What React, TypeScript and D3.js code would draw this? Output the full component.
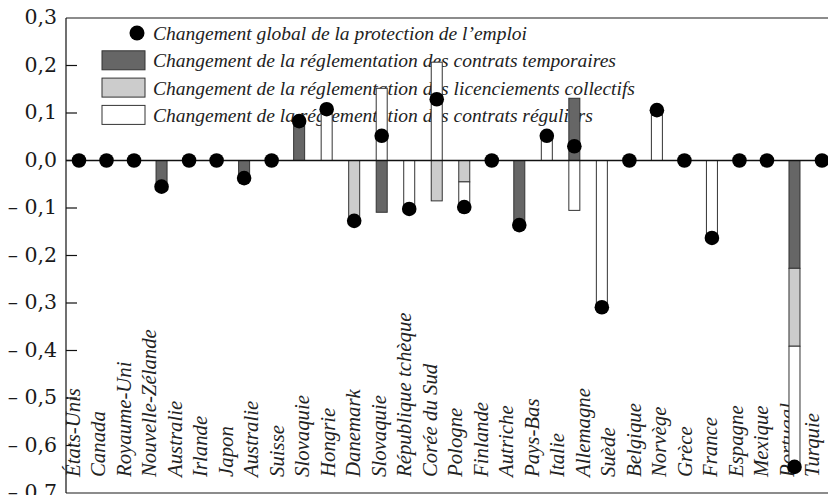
import React, { useEffect, useRef } from 'react';
import * as d3 from 'd3';

// libellés de l'axe horizontal (30) — ils ne tombent pas exactement sous les barres
const labels = [
  'États-Unis', 'Canada', 'Royaume-Uni', 'Nouvelle-Zélande', 'Australie', 'Irlande',
  'Japon', 'Australie', 'Suisse', 'Slovaquie', 'Hongrie', 'Danemark', 'Slovaquie',
  'République tchèque', 'Corée du Sud', 'Pologne', 'Finlande', 'Autriche', 'Pays-Bas',
  'Italie', 'Allemagne', 'Suède', 'Belgique', 'Norvège', 'Grèce', 'France', 'Espagne',
  'Mexique', 'Portugal', 'Turquie'
];

// 28 positions de barres
const temporaires = [0, 0, 0, -0.055, 0, 0, -0.035, 0, 0.085, 0, 0, -0.109, 0, 0, 0, 0, -0.136, 0, 0.131, 0, 0, 0, 0, 0, 0, 0, -0.227, 0];
const collectifs = [0, 0, 0, 0, 0, 0, 0, 0, 0, 0, -0.125, 0, 0, -0.085, -0.045, 0, 0, 0, 0, 0, 0, 0, 0, 0, 0, 0, -0.164, 0];
const reguliers = [0, 0, 0, 0, 0, 0, 0, 0, 0, 0.108, 0, 0.152, -0.1, 0.207, -0.053, 0, 0, 0.045, -0.105, -0.309, 0, 0.106, 0, -0.163, 0, 0, -0.254, 0];
const global = [0, 0, 0, -0.055, 0, 0, -0.037, 0, 0.083, 0.108, -0.127, 0.052, -0.102, 0.129, -0.098, 0, -0.136, 0.052, 0.03, -0.309, 0, 0.106, 0, -0.163, 0, 0, -0.645, 0];

const yTicks = [0.3, 0.2, 0.1, 0, -0.1, -0.2, -0.3, -0.4, -0.5, -0.6, -0.7];

const legendItems = [
  { type: 'dot', fill: '#000', text: 'Changement global de la protection de l’emploi' },
  { type: 'box', fill: '#666666', text: 'Changement de la réglementation des contrats temporaires' },
  { type: 'box', fill: '#cccccc', text: 'Changement de la réglementation des licenciements collectifs' },
  { type: 'box', fill: '#ffffff', text: 'Changement de la réglementation des contrats réguliers' }
];

const keys = ['temporaires', 'collectifs', 'reguliers'];
const colors: Record<string, string> = { temporaires: '#666666', collectifs: '#cccccc', reguliers: '#ffffff' };

const SERIF = "'Liberation Serif', 'Times New Roman', Times, serif";
const AXIS_FONT = "'DejaVu Serif', serif";

export default function App() {
  const ref = useRef<SVGSVGElement>(null);

  useEffect(() => {
    const width = 828;
    const height = 495;
    const left = 66;
    const top = 18;
    const bottom = 493;

    const svg = d3.select(ref.current);
    svg.selectAll('*').remove();
    svg.attr('width', width).attr('height', height);

    const y = d3.scaleLinear().domain([0.3, -0.7]).range([top, bottom]);
    const xBar = d3.scalePoint<number>().domain(d3.range(global.length)).range([79, 822]);
    const xLab = d3.scalePoint<number>().domain(d3.range(labels.length)).range([80, 819]);

    const fmt = (v: number) => {
      const s = d3.format('.1f')(Math.abs(v)).replace('.', ',');
      return v < 0 ? '– ' + s : s;
    };

    // cadre haut / bas
    svg.append('line').attr('x1', left).attr('x2', width).attr('y1', top).attr('y2', top)
      .attr('stroke', '#666').attr('stroke-width', 1.5);
    svg.append('line').attr('x1', left).attr('x2', width).attr('y1', bottom).attr('y2', bottom)
      .attr('stroke', '#666').attr('stroke-width', 1.5);

    // axe y
    svg.append('line').attr('x1', left).attr('x2', left).attr('y1', top).attr('y2', bottom)
      .attr('stroke', '#111').attr('stroke-width', 1.2);
    svg.selectAll('.tick').data(yTicks.filter(t => t < 0.25 && t > -0.65)).enter()
      .append('line')
      .attr('x1', left).attr('x2', left + 11)
      .attr('y1', d => y(d)).attr('y2', d => y(d))
      .attr('stroke', '#111').attr('stroke-width', 1.2);
    svg.selectAll('.ylab').data(yTicks).enter()
      .append('text')
      .attr('x', 57).attr('y', d => y(d)).attr('dy', '0.3em')
      .attr('text-anchor', 'end')
      .style('font-family', AXIS_FONT)
      .style('font-size', '20.5px')
      .attr('fill', '#1a1a1a')
      .text(d => fmt(d));

    // légende
    const lg = svg.append('g');
    legendItems.forEach((it, i) => {
      const cy = 33 + i * 27.3;
      if (it.type === 'dot') {
        lg.append('circle').attr('cx', 137).attr('cy', cy).attr('r', 7.5).attr('fill', '#000');
      } else {
        lg.append('rect').attr('x', 102).attr('y', cy - 9.5).attr('width', 43).attr('height', 19)
          .attr('fill', it.fill).attr('stroke', '#333').attr('stroke-width', 1);
      }
      lg.append('text').attr('x', 153).attr('y', cy + 7)
        .style('font-family', SERIF)
        .style('font-style', 'italic')
        .style('font-size', '19.5px')
        .attr('fill', '#222')
        .text(it.text);
    });

    // libellés pays
    svg.selectAll('.xlab').data(labels).enter()
      .append('text')
      .attr('transform', (d, i) => `translate(${xLab(i)},477) rotate(-90)`)
      .style('font-family', SERIF)
      .style('font-style', 'italic')
      .style('font-size', '20.8px')
      .attr('fill', '#222')
      .text(d => d);

    // barres empilées
    const rows = global.map((g, i) => ({
      i,
      temporaires: temporaires[i],
      collectifs: collectifs[i],
      reguliers: reguliers[i]
    }));
    const series = d3.stack<any>().keys(keys).offset(d3.stackOffsetDiverging)(rows);
    const bw = 11;
    series.forEach(s => {
      svg.append('g').selectAll('rect')
        .data(s.filter(d => Math.abs(d[1] - d[0]) > 1e-9))
        .enter()
        .append('rect')
        .attr('x', d => (xBar(d.data.i) as number) - bw / 2)
        .attr('width', bw)
        .attr('y', d => y(Math.max(d[0], d[1])))
        .attr('height', d => Math.abs(y(d[0]) - y(d[1])))
        .attr('fill', colors[s.key])
        .attr('stroke', '#333')
        .attr('stroke-width', 1);
    });

    // ligne zéro
    svg.append('line').attr('x1', left).attr('x2', width).attr('y1', y(0)).attr('y2', y(0))
      .attr('stroke', '#111').attr('stroke-width', 1.3);

    // points
    svg.append('g').selectAll('circle')
      .data(global)
      .enter()
      .append('circle')
      .attr('cx', (d, i) => xBar(i) as number)
      .attr('cy', d => y(d))
      .attr('r', 7.3)
      .attr('fill', '#000');
  }, []);

  return (
    <div id="svg-box-chart" style={{ position: 'absolute', left: 0, top: 0 }}>
      <svg ref={ref} style={{ display: 'block', background: '#fff' }} />
    </div>
  );
}
